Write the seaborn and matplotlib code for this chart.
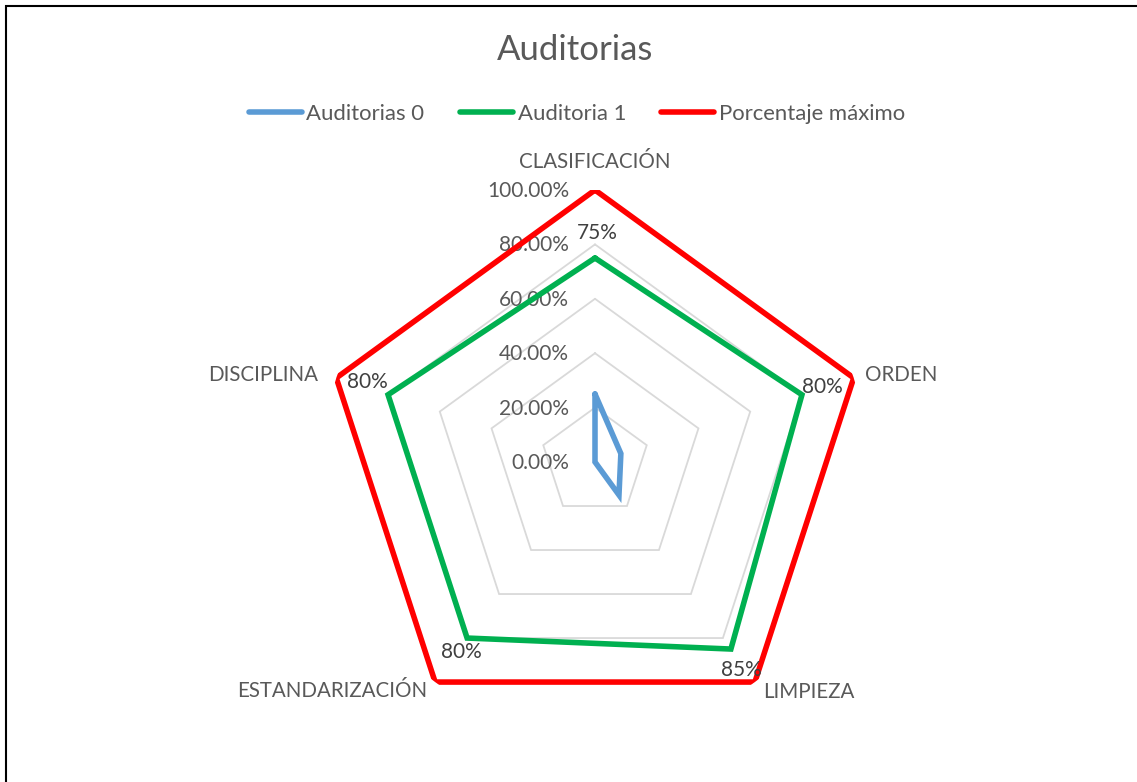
import numpy as np
import pandas as pd
import matplotlib
matplotlib.use("Agg")
import matplotlib.pyplot as plt
from matplotlib.patches import Rectangle
import seaborn as sns

# data
categories = ["CLASIFICACIÓN", "ORDEN", "LIMPIEZA", "ESTANDARIZACIÓN", "DISCIPLINA"]
auditorias_0 = [0.25, 0.10, 0.15, 0.0, 0.0]
auditoria_1 = [0.75, 0.80, 0.85, 0.80, 0.80]
porcentaje_max = [1.0, 1.0, 1.0, 1.0, 1.0]
series_names = ["Auditorias 0", "Auditoria 1", "Porcentaje máximo"]
grid_levels = [0.0, 0.2, 0.4, 0.6, 0.8, 1.0]
grid_labels = ["0.00%", "20.00%", "40.00%", "60.00%", "80.00%", "100.00%"]
point_labels = ["75%", "80%", "85%", "80%", "80%"]

sns.set_theme(style="white")
plt.rcParams["font.family"] = ["Lato", "DejaVu Sans"]

colors = ["#5B9BD5", "#00B050", "#FF0000"]
text_gray = "#595959"

W, H = 1137, 782
fig = plt.figure(figsize=(W / 100, H / 100), dpi=100)
cx, cy, R = 595, 462, 272
ax = fig.add_axes([(cx - R) / W, (H - cy - R) / H, 2 * R / W, 2 * R / H], projection="polar")
ax.set_theta_zero_location("N")
ax.set_theta_direction(-1)
ax.set_ylim(0, 1)
ax.grid(False)
ax.spines["polar"].set_visible(False)
ax.set_xticks([])
ax.set_yticks([])
ax.set_facecolor("none")

theta = np.linspace(0, 2 * np.pi, len(categories), endpoint=False)
theta_closed = np.append(theta, 2 * np.pi)

# pentagon gridlines
for lvl in grid_levels[1:]:
    ax.plot(theta_closed, [lvl] * len(theta_closed), color="#d9d9d9", lw=1.3, zorder=1)

# long-form frame for seaborn
rows = []
for name, vals in zip(series_names, [auditorias_0, auditoria_1, porcentaje_max]):
    closed = list(vals) + [vals[0]]
    for t, v in zip(theta_closed, closed):
        rows.append({"theta": t, "valor": v, "serie": name})
df = pd.DataFrame(rows)

sns.lineplot(data=df, x="theta", y="valor", hue="serie", palette=colors,
             sort=False, estimator=None, lw=4, ax=ax, zorder=3)
ax.set_xlabel("")
ax.set_ylabel("")
handles, labels = ax.get_legend_handles_labels()
ax.get_legend().remove()
for h in handles:
    h.set_linewidth(4)
    h.set_solid_capstyle("round")
for ln in ax.get_lines():
    ln.set_solid_joinstyle("miter")

# radial tick labels
for lvl, lab in zip(grid_levels, grid_labels):
    ax.annotate(lab, (0, lvl), xytext=(-26, -7), textcoords="offset pixels",
                ha="right", va="baseline", fontsize=15, color=text_gray, zorder=2)

# category labels
cat_offsets = [(0, 22), (11, -3), (8, -16), (-8, -15), (-18, -3)]
cat_ha = ["center", "left", "left", "right", "right"]
for t, lab, off, ha in zip(theta, categories, cat_offsets, cat_ha):
    ax.annotate(lab, (t, 1.0), xytext=off, textcoords="offset pixels",
                ha=ha, va="baseline", fontsize=14.8, color=text_gray, annotation_clip=False)

# data labels on Auditoria 1
lab_offsets = [(2, 25), (20, 8), (10, -21), (-6, -14), (-21, 13)]
for t, v, lab, off in zip(theta, auditoria_1, point_labels, lab_offsets):
    ax.annotate(lab, (t, v), xytext=off, textcoords="offset pixels",
                ha="center", va="center", fontsize=15, color="#404040", zorder=5)

fig.text(575 / W, 1 - 50 / H, "Auditorias", ha="center", va="center",
         fontsize=25, color=text_gray)
fig.legend(handles, labels, loc="center", bbox_to_anchor=(577 / W, 1 - 114 / H),
           ncol=3, frameon=False, fontsize=15.9, handlelength=2.4, handletextpad=0.22,
           columnspacing=1.6, labelcolor=text_gray)

fig.patches.append(Rectangle((6 / W, -0.1), 1.2, 1.1 - 6.5 / H, transform=fig.transFigure,
                             fill=False, edgecolor="black", lw=1.5))

fig.savefig("out.png", dpi=100, facecolor="white")
